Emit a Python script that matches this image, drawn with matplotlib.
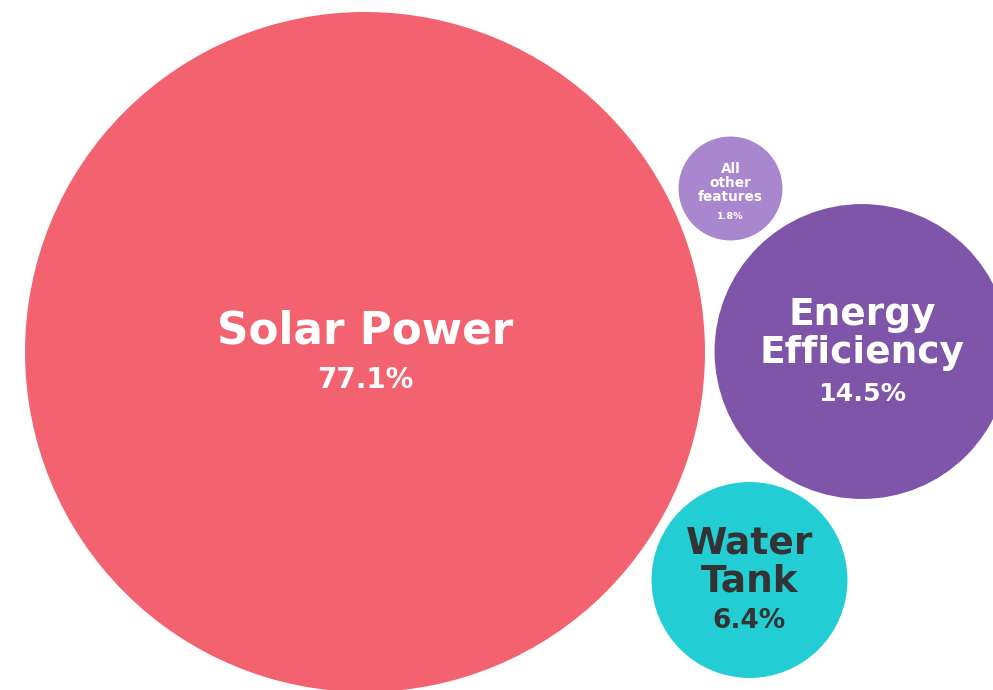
import numpy as np
import matplotlib.pyplot as plt
from matplotlib.patches import Circle

# Data
labels = ['Solar Power', 'Energy\nEfficiency', 'Water\nTank', 'All\nother\nfeatures']
shares = [77.1, 14.5, 6.4, 1.8]  # percent
colors = ['#F2636F', '#7E55A9', '#23CDD4', '#A987CE']
text_colors = ['white', 'white', '#333333', 'white']

# Layout (pixel space, y goes down)
W, H = 993, 690
centers = [(365, 352), (862, 351.5), (749.5, 580), (730.5, 188.5)]
k = 340 / np.sqrt(max(shares))  # radius scale: area ~ share
label_size = [31.5, 27, 27, 9.8]
pct_size = [20, 18.2, 19, 6.8]
# baseline offsets from centre for each text line (labels..., pct)
offsets = [[-9, 36], [-26.5, 11.5, 49.5], [-27, 11, 48], [-15.5, -1.5, 12.5, 30.5]]

fig = plt.figure(figsize=(W / 100, H / 100), dpi=100)
ax = fig.add_axes([0, 0, 1, 1])
ax.set_xlim(0, W)
ax.set_ylim(H, 0)
ax.set_aspect('equal')
ax.axis('off')

for i, (lab, val) in enumerate(zip(labels, shares)):
    cx, cy = centers[i]
    r = k * np.sqrt(val)
    ax.add_patch(Circle((cx, cy), r, facecolor=colors[i], edgecolor='none'))
    lines = lab.split('\n')
    for j, line in enumerate(lines):
        ax.text(cx, cy + offsets[i][j], line, ha='center', va='baseline',
                fontsize=label_size[i], fontweight='bold', color=text_colors[i],
                family='DejaVu Sans')
    ax.text(cx, cy + offsets[i][-1], f'{val}%', ha='center', va='baseline',
            fontsize=pct_size[i], fontweight='bold', color=text_colors[i],
            family='DejaVu Sans')

fig.savefig('out.png', dpi=100)
